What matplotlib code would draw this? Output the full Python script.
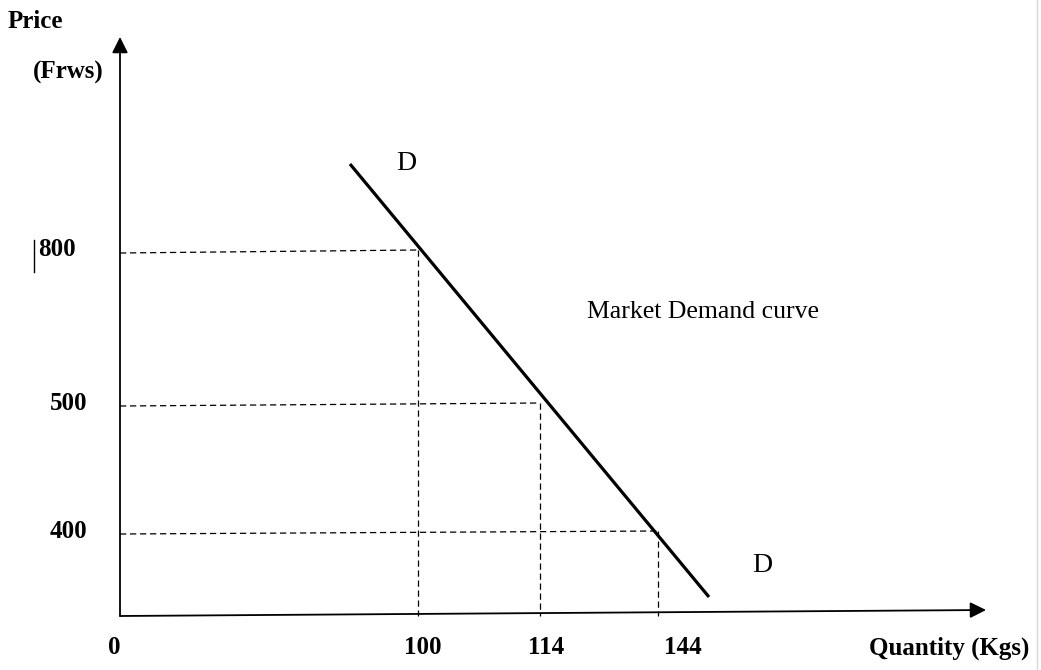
import matplotlib.pyplot as plt

# schematic diagram, drawn in picture units (x right, y down)
price_labels = ["800", "500", "400"]
quantity_labels = ["100", "114", "144"]

# where each price/quantity pair sits on the demand curve
point_x = [418, 540, 658]
point_y = [250, 403, 531]

# demand curve end points
curve_x = [350, 709]
curve_y = [164, 597]

origin = (120, 616)

plt.rcParams["font.family"] = ["Liberation Serif", "DejaVu Serif"]

fig = plt.figure(figsize=(10.41, 6.70), dpi=100)
ax = fig.add_axes([0, 0, 1, 1])
ax.set_xlim(0, 1041)
ax.set_ylim(670, 0)
ax.axis("off")

# axes with arrows
ax.annotate("", xy=(origin[0], 37), xytext=origin,
            arrowprops=dict(arrowstyle="-|>", mutation_scale=24, lw=1.3, color="black",
                            shrinkA=0, shrinkB=0))
ax.annotate("", xy=(986, 610), xytext=origin,
            arrowprops=dict(arrowstyle="-|>", mutation_scale=24, lw=1.3, color="black",
                            shrinkA=0, shrinkB=0))

# dashed guide lines
for px, py in zip(point_x, point_y):
    ax.plot([origin[0], px], [py + 3, py], color="black", lw=0.9, ls=(0, (5, 3)))
    ax.plot([px, px], [py, origin[1]], color="black", lw=0.9, ls=(0, (5, 3)))

# demand curve
ax.plot(curve_x, curve_y, color="black", lw=2.3, solid_capstyle="butt")

bold = dict(fontsize=18, fontweight="bold", color="black")
ax.text(8, 22, "Price", ha="left", va="center", **bold)
ax.text(33, 72, "(Frws)", ha="left", va="center", **bold)

label_x = [38, 50, 50]
for lab, py, lx in zip(price_labels, point_y, label_x):
    ax.text(lx, py, lab, ha="left", va="center", **bold)
ax.plot([34, 34], [240, 272], color="black", lw=1.0)

ax.text(origin[0] - 6, 648, "0", ha="center", va="center", **bold)
qlabel_x = [423, 546, 683]
for lab, lx in zip(quantity_labels, qlabel_x):
    ax.text(lx, 648, lab, ha="center", va="center", **bold)
ax.text(1029, 648, "Quantity (Kgs)", ha="right", va="center", **bold)

ax.text(406, 163, "D", ha="center", va="center", fontsize=20)
ax.text(762, 565, "D", ha="center", va="center", fontsize=20)
ax.text(587, 312, "Market Demand curve", ha="left", va="center", fontsize=18.5)

ax.plot([1037, 1037], [0, 670], color="#d8d8d8", lw=1.0)

fig.savefig("out.png", dpi=100)
